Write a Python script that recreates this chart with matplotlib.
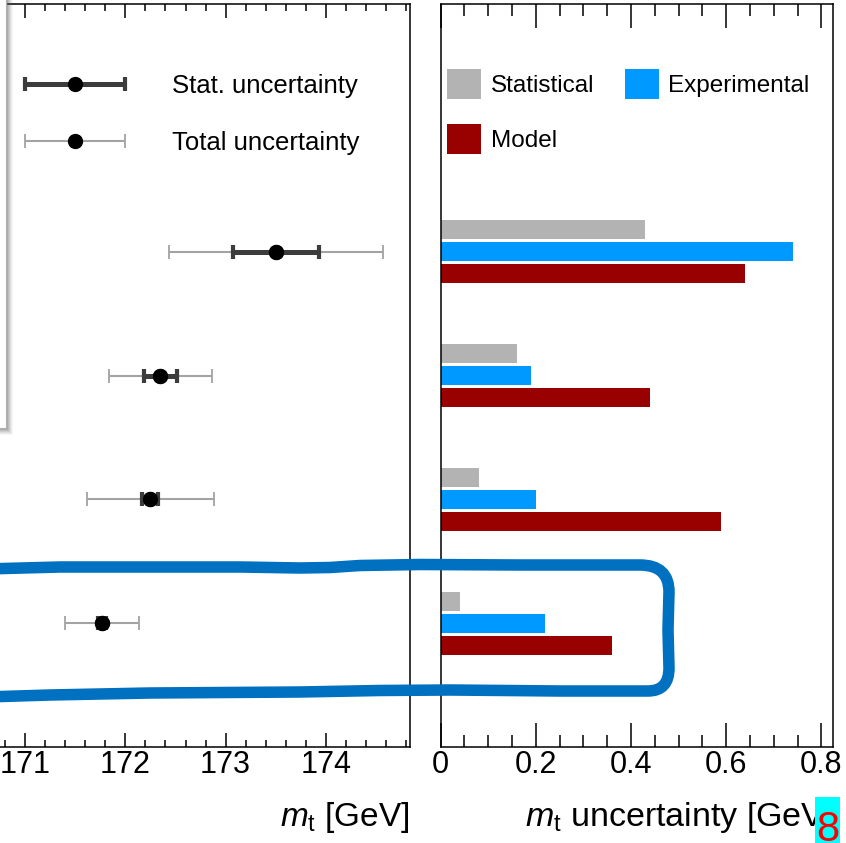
import matplotlib
matplotlib.use('Agg')
import matplotlib.pyplot as plt
import numpy as np
from matplotlib.ticker import MultipleLocator, FixedLocator, FixedFormatter
from matplotlib.patches import Rectangle, PathPatch
from matplotlib.path import Path
from matplotlib.legend_handler import HandlerErrorbar
from matplotlib.container import ErrorbarContainer

plt.rcParams['font.family'] = ['Liberation Sans', 'DejaVu Sans']
plt.rcParams['mathtext.fontset'] = 'custom'
plt.rcParams['mathtext.rm'] = 'Liberation Sans'
plt.rcParams['mathtext.it'] = 'Liberation Sans:italic'

# ---------------- data ----------------
rows = [0, 1, 2, 3]
mass = [173.50, 172.35, 172.25, 171.77]
stat_unc = [0.43, 0.16, 0.08, 0.04]
total_unc = [1.07, 0.51, 0.63, 0.37]
exp_unc = [0.74, 0.19, 0.20, 0.22]
model_unc = [0.64, 0.44, 0.59, 0.36]
mass_ticks = [171, 172, 173, 174]
mass_ticklabels = ['171', '172', '173', '174']
unc_ticks = [0, 0.2, 0.4, 0.6, 0.8]
unc_ticklabels = ['0', '0.2', '0.4', '0.6', '0.8']

W, H = 846, 843
fig = plt.figure(figsize=(W / 100, H / 100), dpi=100)


def fx(x):
    return x / W


def fy(y):
    return 1 - y / H


top, bot = 4, 747
ax1 = fig.add_axes([fx(-24.9), fy(bot), (410 + 24.9) / W, (bot - top) / H])
ax2 = fig.add_axes([fx(440.5), fy(bot), (833.3 - 440.5) / W, (bot - top) / H])

# ---------------- left panel: mass with error bars ----------------
tot = ax1.errorbar(mass, rows, xerr=total_unc, fmt='o', color='black', ms=10,
                   ecolor='#a3a3a3', elinewidth=1.5, capsize=4.7, capthick=1.3,
                   zorder=2)
st = ax1.errorbar(mass, rows, xerr=stat_unc, fmt='o', color='black', ms=10,
                  ecolor='#3c3c3c', elinewidth=3.6, capsize=5, capthick=3,
                  zorder=3)
ax1.set_xlim(170.5, 174.84)
ax1.set_ylim(4.0, -2.0)
ax1.xaxis.set_major_locator(FixedLocator(mass_ticks))
ax1.xaxis.set_major_formatter(FixedFormatter(mass_ticklabels))
ax1.xaxis.set_minor_locator(MultipleLocator(0.2))
ax1.set_yticks([])
ax1.tick_params(axis='x', which='both', direction='in', top=True, bottom=True,
                width=1.1, pad=2, labelsize=22)
ax1.tick_params(axis='x', which='major', length=10)
ax1.tick_params(axis='x', which='minor', length=5)

ax1.legend([st, tot], ['Stat. uncertainty', 'Total uncertainty'],
           loc='center left', bbox_to_anchor=(fx(25), fy(114.5)),
           bbox_transform=fig.transFigure, frameon=False, fontsize=18.5,
           handlelength=3.89, handletextpad=1.82, labelspacing=1.25,
           borderpad=0, borderaxespad=0,
           handler_map={ErrorbarContainer: HandlerErrorbar(xerr_size=1.945)})

# ---------------- right panel: uncertainty breakdown ----------------
y = np.array(rows, dtype=float)
bh = 0.153
off = 0.177
b_stat = ax2.barh(y - off, stat_unc, height=bh, color='#b3b3b3')
b_exp = ax2.barh(y, exp_unc, height=bh, color='#0099ff')
b_model = ax2.barh(y + off, model_unc, height=bh, color='#990000')
ax2.set_xlim(0, 0.825)
ax2.set_ylim(4.0, -2.0)
ax2.xaxis.set_major_locator(FixedLocator(unc_ticks))
ax2.xaxis.set_major_formatter(FixedFormatter(unc_ticklabels))
ax2.xaxis.set_minor_locator(MultipleLocator(0.05))
ax2.set_yticks([])
ax2.tick_params(axis='x', which='both', direction='in', top=True, bottom=True,
                width=1.1, pad=2, labelsize=22)
ax2.tick_params(axis='x', which='major', length=17)
ax2.tick_params(axis='x', which='minor', length=8.6)

ax2.legend([b_stat, b_model, b_exp], ['Statistical', 'Model', 'Experimental'],
           ncol=2, loc='center left', bbox_to_anchor=(fx(447), fy(111.5)),
           bbox_transform=fig.transFigure, frameon=False, fontsize=17.5,
           handlelength=1.4, handleheight=1.52, handletextpad=0.4,
           labelspacing=1.06, columnspacing=1.25, borderpad=0, borderaxespad=0)

for ax in (ax1, ax2):
    for s in ax.spines.values():
        s.set_linewidth(1.1)

# ---------------- axis titles ----------------
fig.text(fx(410), fy(826), r'$m_\mathrm{t}$ [GeV]', ha='right', va='baseline',
         fontsize=24, zorder=5)
fig.text(fx(833), fy(826), r'$m_\mathrm{t}$ uncertainty [GeV]', ha='right',
         va='baseline', fontsize=24.5, zorder=5)

# ---------------- overlapping legend box with shadow (top-left) ----------------
for k, a in zip([7, 6, 5, 4, 3, 2], [0.05, 0.07, 0.09, 0.12, 0.15, 0.18]):
    fig.patches.append(Rectangle((fx(-40 + k), fy(428 + k)), 46 / W, 440 / H,
                                 transform=fig.transFigure, facecolor='#606060',
                                 edgecolor='none', alpha=a, zorder=6))
fig.patches.append(Rectangle((fx(-40), fy(428)), 46 / W, 440 / H,
                             transform=fig.transFigure, facecolor='white',
                             edgecolor='#b0b0b0', linewidth=0.8, zorder=7))

# ---------------- hand-drawn blue highlight ----------------
pts = [
    ((-15, 569), Path.MOVETO), ((60, 567), Path.LINETO), ((150, 567), Path.LINETO),
    ((240, 567), Path.LINETO), ((300, 568), Path.LINETO), ((330, 567.5), Path.LINETO),
    ((360, 565.5), Path.LINETO), ((420, 564.5), Path.LINETO), ((520, 565), Path.LINETO),
    ((640, 565), Path.LINETO),
    ((669, 565), Path.CURVE3), ((669, 592), Path.CURVE3),
    ((668, 630), Path.LINETO), ((669, 668), Path.LINETO),
    ((669, 691), Path.CURVE3), ((648, 691), Path.CURVE3),
    ((560, 691), Path.LINETO), ((450, 690), Path.LINETO), ((380, 690.5), Path.LINETO),
    ((300, 692), Path.LINETO), ((150, 693), Path.LINETO), ((50, 695), Path.LINETO),
    ((-15, 697), Path.LINETO),
]
verts = [(fx(p[0]), fy(p[1])) for p, _ in pts]
codes = [c for _, c in pts]
fig.patches.append(PathPatch(Path(verts, codes), transform=fig.transFigure,
                             facecolor='none', edgecolor='#0070c0', linewidth=8.3,
                             capstyle='round', joinstyle='round', zorder=8))

# ---------------- page-number sticker ----------------
fig.patches.append(Rectangle((fx(815), fy(845)), 25 / W, 48 / H,
                             transform=fig.transFigure, facecolor='#00ffff',
                             edgecolor='none', zorder=9))
fig.text(fx(827.5), fy(841), '8', color='#ff0000', fontsize=30, ha='center',
         va='baseline', zorder=10)

fig.savefig('out.png', dpi=100)
